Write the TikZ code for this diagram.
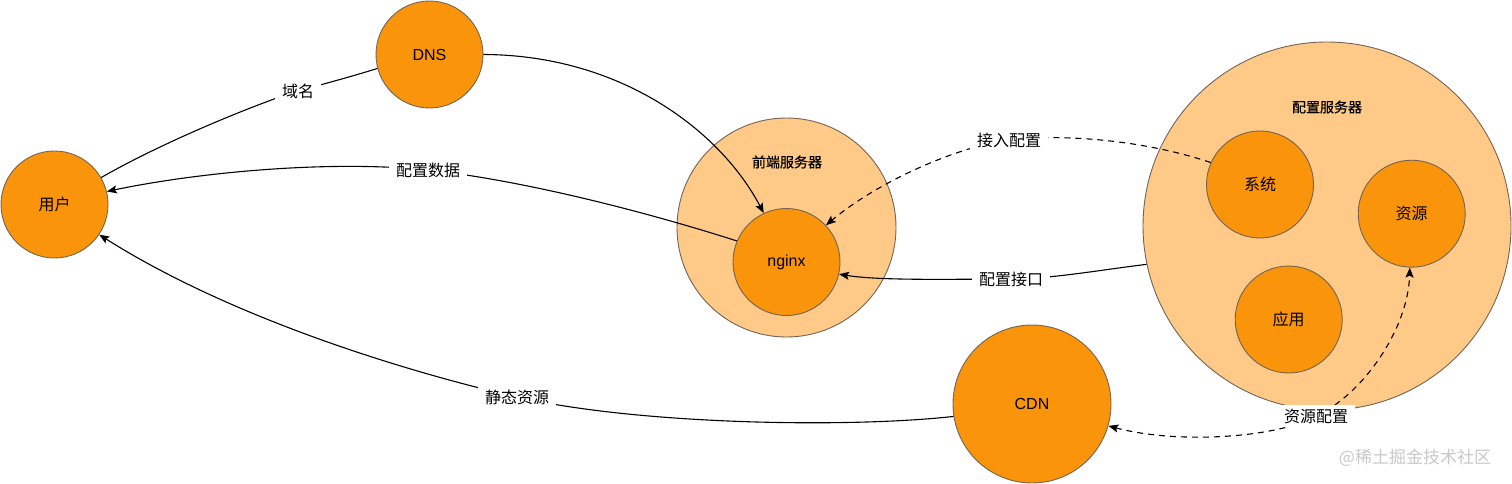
\documentclass[tikz,border=0pt]{standalone}
\usepackage{fontspec}
\setmainfont{Liberation Sans}
\newfontfamily\cjk{Noto Sans CJK SC}
\newfontfamily\cjkm{Noto Sans CJK SC}[FakeBold=0.6]
\usetikzlibrary{arrows.meta}
\definecolor{orangeA}{RGB}{250,148,10}
\definecolor{orangeL}{RGB}{255,201,135}
\definecolor{rimC}{RGB}{115,100,85}
\definecolor{wmC}{RGB}{200,200,200}
\tikzset{
  inner/.style={circle, draw=rimC, line width=0.9pt, fill=orangeA, inner sep=0pt, minimum size=107pt, font=\fontsize{16}{19}\selectfont},
  outer/.style={circle, draw=rimC, line width=0.9pt, fill=orangeL, inner sep=0pt},
  grp/.style={font=\cjkm\fontsize{14}{17}\selectfont},
  lbl/.style={fill=white, inner xsep=7pt, inner ysep=3pt, font=\cjk\fontsize{16}{19}\selectfont},
  conn/.style={line width=1.1pt, draw=black},
  arr/.style={-{Stealth[length=10pt,width=8pt,inset=2pt]}},
  dsh/.style={dash pattern=on 6pt off 5pt},
}
\begin{document}
\begin{tikzpicture}[x=1pt,y=-1pt]
\useasboundingbox (0,0) rectangle (1512,484);
% group circles
\node[outer, minimum size=219pt] (fe) at (786.5,227.5) {};
\node[grp] (fet) at (787,162) {前端服务器};
\node[outer, minimum size=368pt] (cfg) at (1327,226) {};
\node[grp] (cfgt) at (1327,107) {配置服务器};
% nodes
\node[inner] (user) at (54.5,204.5) {\cjk 用户};
\node[inner] (dns) at (429.5,54.5) {DNS};
\node[inner] (nginx) at (786.5,262) {nginx};
\node[inner] (xt) at (1260,184.5) {\cjk 系统};
\node[inner] (zy) at (1411.7,213.7) {\cjk 资源};
\node[inner] (yy) at (1288.7,319.5) {\cjk 应用};
\node[inner, minimum size=158pt] (cdn) at (1032,404) {CDN};
% label positions
\coordinate (p1) at (298,91);
\coordinate (p2) at (428,170);
\coordinate (p3) at (1009,140);
\coordinate (p4) at (1011,279);
\coordinate (p5) at (517,397);
\coordinate (p6) at (1316,416);
% connectors
\draw[conn] (dns.195) .. controls (350,77) and (320,85) .. (p1)
            .. controls (270,99) and (170,138) .. (user.30);
\draw[conn, arr] (dns.0) .. controls (620,55) and (720,130) .. (nginx.115);
\draw[conn, arr] (nginx.157) .. controls (640,210) and (520,180) .. (p2)
            .. controls (330,160) and (200,172) .. (user.14);
\draw[conn, dsh, arr] (xt.156) .. controls (1150,142) and (1070,133) .. (p3)
            .. controls (960,146) and (880,180) .. (nginx.43);
\draw[conn, arr] (cfg.192) .. controls (1100,270) and (1050,279) .. (p4)
            .. controls (960,279) and (880,281) .. (nginx.347);
\draw[conn, arr] (cdn.189) .. controls (850,428) and (640,425) .. (p5)
            .. controls (450,382) and (250,330) .. (user.326);
\draw[conn, dsh, arr] (p6) .. controls (1280,437) and (1180,445) .. (cdn.344);
\draw[conn, dsh, arr] (p6) .. controls (1362,395) and (1408,330) .. (zy.268);
% labels
\node[lbl] (t1) at (p1) {域名};
\node[lbl] (t2) at (p2) {配置数据};
\node[lbl] (t3) at (p3) {接入配置};
\node[lbl] (t4) at (p4) {配置接口};
\node[lbl] (t5) at (p5) {静态资源};
\node[lbl, inner xsep=6.5pt, inner ysep=4pt] (t6) at (p6) {资源配置};
% watermark
\node[font=\cjk\fontsize{17}{20}\selectfont, text=wmC] (wm) at (1415,458) {@稀土掘金技术社区};
\end{tikzpicture}
\end{document}
